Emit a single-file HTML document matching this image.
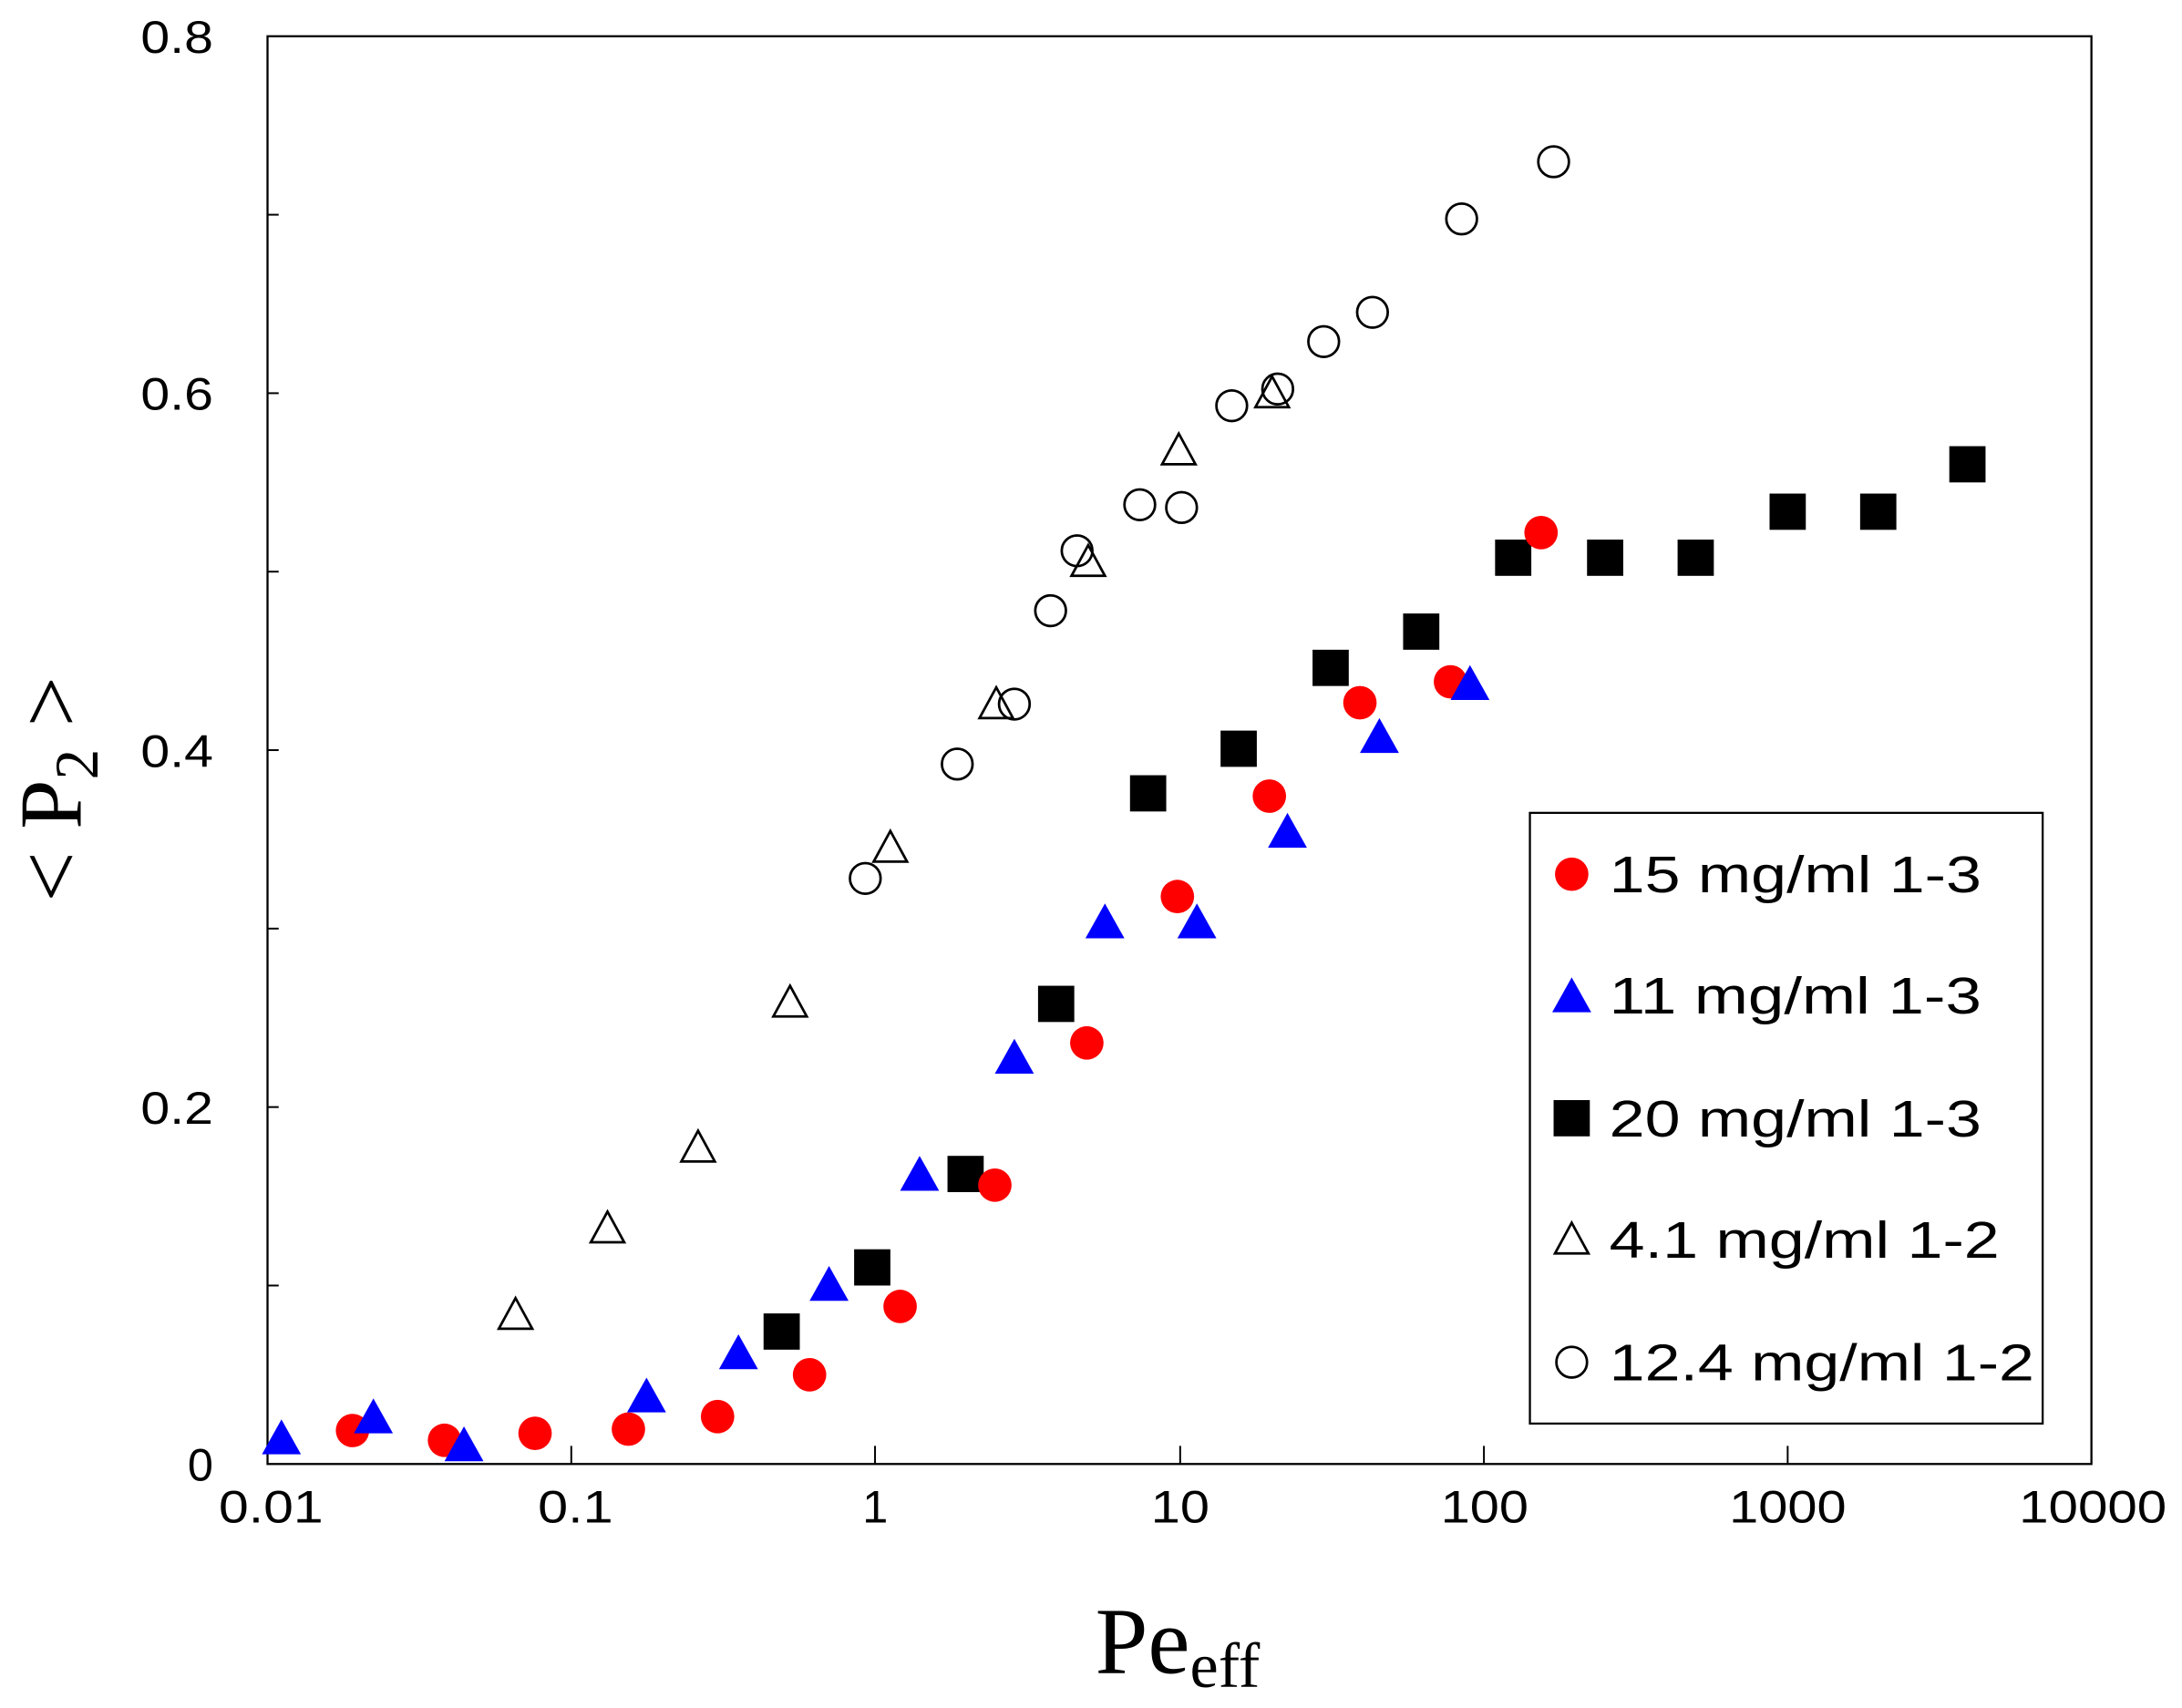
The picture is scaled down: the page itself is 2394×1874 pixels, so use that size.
<!DOCTYPE html>
<html><head><meta charset="utf-8"><style>
html,body{margin:0;padding:0;background:#fff;}
svg{display:block;}
</style></head><body>
<svg width="2394" height="1874" viewBox="0 0 1566 1225" preserveAspectRatio="none" xmlns="http://www.w3.org/2000/svg">
<rect x="0" y="0" width="1566" height="1225" fill="#fff"/>
<rect x="192" y="26" width="1309" height="1024" fill="none" stroke="#000" stroke-width="1.5"/>
<g stroke="#000" stroke-width="1.3">
<line x1="192" y1="154" x2="200" y2="154"/><line x1="192" y1="282" x2="200" y2="282"/>
<line x1="192" y1="410" x2="200" y2="410"/><line x1="192" y1="538" x2="200" y2="538"/>
<line x1="192" y1="666" x2="200" y2="666"/><line x1="192" y1="794" x2="200" y2="794"/>
<line x1="192" y1="922" x2="200" y2="922"/>
<line x1="410" y1="1050" x2="410" y2="1037"/><line x1="628" y1="1050" x2="628" y2="1037"/>
<line x1="847" y1="1050" x2="847" y2="1037"/><line x1="1065" y1="1050" x2="1065" y2="1037"/>
<line x1="1283" y1="1050" x2="1283" y2="1037"/>
</g>
<g font-family="Liberation Sans, sans-serif" font-size="33" fill="#000" text-anchor="end">
<text x="153" y="38" textLength="52" lengthAdjust="spacingAndGlyphs">0.8</text>
<text x="153" y="294" textLength="52" lengthAdjust="spacingAndGlyphs">0.6</text>
<text x="153" y="550" textLength="52" lengthAdjust="spacingAndGlyphs">0.4</text>
<text x="153" y="806" textLength="52" lengthAdjust="spacingAndGlyphs">0.2</text>
<text x="153" y="1062">0</text>
</g>
<g font-family="Liberation Sans, sans-serif" font-size="33" fill="#000">
<text x="157" y="1092" textLength="75" lengthAdjust="spacingAndGlyphs">0.01</text>
<text x="386" y="1092" textLength="54" lengthAdjust="spacingAndGlyphs">0.1</text>
<text x="619" y="1092">1</text>
<text x="826" y="1092" textLength="42" lengthAdjust="spacingAndGlyphs">10</text>
<text x="1034" y="1092" textLength="63" lengthAdjust="spacingAndGlyphs">100</text>
<text x="1241" y="1092" textLength="84" lengthAdjust="spacingAndGlyphs">1000</text>
<text x="1449" y="1092" textLength="106" lengthAdjust="spacingAndGlyphs">10000</text>
</g>
<text x="786" y="1200" font-family="Liberation Serif, serif" font-size="68">Pe<tspan font-size="46" dy="10">eff</tspan></text>
<text transform="translate(58,566) rotate(-90)" text-anchor="middle" font-family="Liberation Serif, serif" font-size="64">&lt; P<tspan font-size="44" dy="12">2</tspan><tspan dy="-12"> &gt;</tspan></text>
<g fill="none" stroke="#000" stroke-width="1.8">
<path d="M370,931 L382,953 L358,953Z"/><path d="M436,869 L448,891 L424,891Z"/><path d="M501,811 L513,833 L489,833Z"/>
<path d="M567,707 L579,729 L555,729Z"/><path d="M639,596 L651,618 L627,618Z"/><path d="M715,493 L727,515 L703,515Z"/>
<path d="M781,391 L793,413 L769,413Z"/><path d="M846,311 L858,333 L834,333Z"/><path d="M913,270 L925,292 L901,292Z"/>
<circle cx="621" cy="630" r="11"/><circle cx="687" cy="548" r="11"/><circle cx="728" cy="505" r="11"/>
<circle cx="754" cy="438" r="11"/><circle cx="773" cy="395" r="11"/><circle cx="818" cy="362" r="11"/>
<circle cx="848" cy="364" r="11"/><circle cx="884" cy="291" r="11"/><circle cx="917" cy="279" r="11"/>
<circle cx="950" cy="245" r="11"/><circle cx="985" cy="224" r="11"/><circle cx="1049" cy="157" r="11"/>
<circle cx="1115" cy="116" r="11"/>
</g>
<g fill="#000">
<rect x="548" y="942" width="26" height="26"/><rect x="613" y="896" width="26" height="26"/><rect x="680" y="829" width="26" height="26"/>
<rect x="745" y="707" width="26" height="26"/><rect x="811" y="556" width="26" height="26"/><rect x="876" y="524" width="26" height="26"/>
<rect x="942" y="466" width="26" height="26"/><rect x="1007" y="440" width="26" height="26"/><rect x="1073" y="387" width="26" height="26"/>
<rect x="1139" y="387" width="26" height="26"/><rect x="1204" y="387" width="26" height="26"/><rect x="1270" y="354" width="26" height="26"/>
<rect x="1335" y="354" width="26" height="26"/><rect x="1399" y="320" width="26" height="26"/>
</g>
<g fill="#ff0000">
<circle cx="253" cy="1026" r="12"/><circle cx="319" cy="1033" r="12"/><circle cx="384" cy="1028" r="12"/>
<circle cx="451" cy="1025" r="12"/><circle cx="515" cy="1016" r="12"/><circle cx="581" cy="986" r="12"/>
<circle cx="646" cy="937" r="12"/><circle cx="714" cy="850" r="12"/><circle cx="780" cy="748" r="12"/>
<circle cx="845" cy="643" r="12"/><circle cx="911" cy="571" r="12"/><circle cx="976" cy="504" r="12"/>
<circle cx="1041" cy="489" r="12"/><circle cx="1106" cy="382" r="12"/>
</g>
<g fill="#0000ff">
<path d="M202,1018 L216,1043 L188,1043Z"/><path d="M268,1003 L282,1028 L254,1028Z"/><path d="M333,1023 L347,1048 L319,1048Z"/>
<path d="M464,988 L478,1013 L450,1013Z"/><path d="M530,957 L544,982 L516,982Z"/><path d="M595,908 L609,933 L581,933Z"/>
<path d="M660,829 L674,854 L646,854Z"/><path d="M728,745 L742,770 L714,770Z"/><path d="M793,648 L807,673 L779,673Z"/>
<path d="M859,648 L873,673 L845,673Z"/><path d="M924,583 L938,608 L910,608Z"/><path d="M990,515 L1004,540 L976,540Z"/>
<path d="M1055,477 L1069,502 L1041,502Z"/>
</g>
<rect x="1098" y="583" width="368" height="438" fill="#fff" stroke="#000" stroke-width="1.5"/>
<circle cx="1128" cy="627" r="12" fill="#ff0000"/>
<path d="M1128,701 L1142,726 L1114,726Z" fill="#0000ff"/>
<rect x="1115" y="789" width="26" height="26" fill="#000"/>
<path d="M1128,877 L1140,899 L1116,899Z" fill="none" stroke="#000" stroke-width="1.8"/>
<circle cx="1128" cy="977" r="11" fill="none" stroke="#000" stroke-width="1.8"/>
<g font-family="Liberation Sans, sans-serif" font-size="37" fill="#000">
<text x="1155" y="640" textLength="267" lengthAdjust="spacingAndGlyphs">15 mg/ml 1-3</text>
<text x="1155" y="727" textLength="267" lengthAdjust="spacingAndGlyphs">11 mg/ml 1-3</text>
<text x="1155" y="815" textLength="267" lengthAdjust="spacingAndGlyphs">20 mg/ml 1-3</text>
<text x="1155" y="902" textLength="280" lengthAdjust="spacingAndGlyphs">4.1 mg/ml 1-2</text>
<text x="1155" y="990" textLength="305" lengthAdjust="spacingAndGlyphs">12.4 mg/ml 1-2</text>
</g>
</svg>
</body></html>
